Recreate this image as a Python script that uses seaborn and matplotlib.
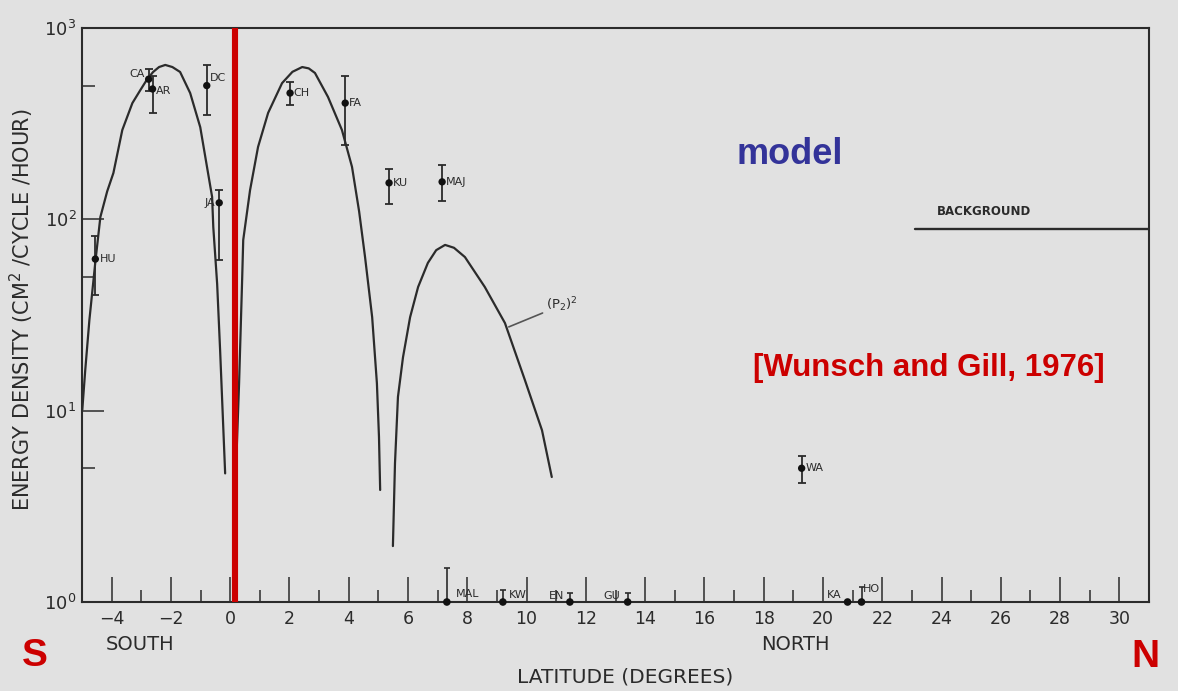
import matplotlib
matplotlib.use('Agg')
import matplotlib.pyplot as plt
import seaborn as sns
from matplotlib.ticker import NullFormatter

# (P2)^2 model curve, three lobes (latitude in degrees, energy density)
lat_a = [-4.99, -4.89, -4.75, -4.55, -4.38, -4.15, -3.94, -3.64, -3.30, -3.03, -2.80, -2.60,
         -2.40, -2.19, -1.95, -1.69, -1.35, -1.01, -0.78, -0.61, -0.57, -0.44, -0.34, -0.17]
val_a = [10.1, 16.3, 29.8, 59.8, 102.8, 140, 174.7, 293, 405, 474, 540, 589,
         625, 641, 625, 589, 457, 303, 187, 131, 91, 46, 20.7, 4.7]
lat_b = [0.18, 0.30, 0.40, 0.44, 0.67, 0.94, 1.28, 1.75, 2.10, 2.43, 2.65, 2.86, 3.30,
         3.77, 4.11, 4.35, 4.55, 4.79, 4.95, 5.02, 5.06]
val_b = [4.2, 13.9, 46.5, 78, 142, 239, 360, 515, 590, 625, 615, 582, 436,
         293, 188, 110, 63.5, 30.8, 13.9, 7.3, 3.85]
lat_c = [5.49, 5.56, 5.66, 5.83, 6.07, 6.34, 6.67, 6.95, 7.25, 7.55, 7.92, 8.59, 9.27,
         9.94, 10.52, 10.85]
val_c = [1.96, 5.3, 11.8, 19.0, 30.8, 44.3, 59.2, 69, 73.5, 71, 63.5, 44.3, 28.7,
         14.5, 7.9, 4.5]

# station observations
stations = ['HU', 'CA', 'AR', 'DC', 'JA', 'CH', 'FA', 'KU', 'MAJ', 'WA']
st_lat = [-4.55, -2.75, -2.62, -0.79, -0.37, 2.02, 3.88, 5.36, 7.15, 19.28]
st_val = [62, 540, 480, 500, 122, 457, 405, 155, 157, 5.0]
st_lo = [40, 470, 360, 350, 61, 395, 244, 120, 125, 4.2]
st_hi = [82, 610, 560, 640, 142, 522, 561, 183, 192, 5.8]

# stations sitting on the 10^0 line
low_names = ['MAL', 'KW', 'EN', 'GU', 'KA', 'HO']
low_lat = [7.31, 9.20, 11.46, 13.41, 20.83, 21.30]
low_val = [1, 1, 1, 1, 1, 1]
low_hi = [1.5, 1.15, 1.12, 1.12, 1.0, 1.2]

bg_lat = [23.1, 31.0]
bg_val = [88.9, 88.9]

bgc = '#e1e1e1'
ink = '#2b2b2b'

sns.set_style('ticks')
plt.rcParams['font.family'] = ['DejaVu Sans']

fig = plt.figure(figsize=(11.78, 6.91), dpi=100, facecolor=bgc)
ax = fig.add_axes([0.0696, 0.1288, 0.9058, 0.8307])
ax.set_facecolor(bgc)

for xs, ys in [(lat_a, val_a), (lat_b, val_b), (lat_c, val_c)]:
    sns.lineplot(x=xs, y=ys, sort=False, estimator=None, color=ink, lw=1.6, ax=ax)
sns.lineplot(x=bg_lat, y=bg_val, sort=False, estimator=None, color=ink, lw=1.7, ax=ax)

# error bars
for i in range(len(stations)):
    ax.errorbar(st_lat[i], st_val[i],
                yerr=[[st_val[i] - st_lo[i]], [st_hi[i] - st_val[i]]],
                fmt='none', ecolor=ink, elinewidth=1.3, capsize=3, capthick=1.3)
sns.scatterplot(x=st_lat, y=st_val, color='#111111', s=28, edgecolor='none', ax=ax, zorder=4)

for i in range(len(low_names)):
    if low_hi[i] > 1:
        ax.errorbar(low_lat[i], low_val[i], yerr=[[0], [low_hi[i] - 1]],
                    fmt='none', ecolor=ink, elinewidth=1.2, capsize=2.5, capthick=1.2,
                    clip_on=False)
sns.scatterplot(x=low_lat, y=low_val, color='#111111', s=30, edgecolor='none', ax=ax,
                zorder=4, clip_on=False)

# station labels
lab_kw = dict(fontsize=8, color=ink, va='center')
offs = {'HU': (0.15, 1.0, 'left'), 'CA': (-0.12, 1.07, 'right'), 'AR': (0.12, 0.98, 'left'),
        'DC': (0.12, 1.1, 'left'), 'JA': (-0.12, 1.0, 'right'), 'CH': (0.12, 1.0, 'left'),
        'FA': (0.12, 1.0, 'left'), 'KU': (0.12, 1.0, 'left'), 'MAJ': (0.12, 1.0, 'left'),
        'WA': (0.12, 1.0, 'left')}
for n, x, y in zip(stations, st_lat, st_val):
    dx, fy, ha = offs[n]
    ax.text(x + dx, y * fy, n, ha=ha, **lab_kw)
low_offs = {'MAL': (0.3, 1.1, 'left'), 'KW': (0.2, 1.09, 'left'), 'EN': (-0.2, 1.08, 'right'),
            'GU': (-0.25, 1.08, 'right'), 'KA': (-0.2, 1.09, 'right'), 'HO': (0.05, 1.17, 'left')}
for n, x in zip(low_names, low_lat):
    dx, fy, ha = low_offs[n]
    ax.text(x + dx, fy, n, ha=ha, **lab_kw)

ax.text(23.85, 101, 'BACKGROUND', fontsize=8.5, fontweight='bold', color=ink, va='bottom')
ax.annotate('(P$_2$)$^2$', xy=(9.4, 27.4), xytext=(10.65, 35.6), fontsize=9.5, color=ink,
            va='center', arrowprops=dict(arrowstyle='-', color='#555555', lw=1.2,
                                         shrinkA=0, shrinkB=0))

# red equator line
ax.axvline(0.17, color='#cc0000', lw=4.4, zorder=5)

ax.set_yscale('log')
ax.set_xlim(-5, 31)
ax.set_ylim(1, 1000)
ax.set_xticks(range(-4, 31, 2))
ax.set_xticks(range(-5, 32, 2), minor=True)
ax.set_xticklabels([str(v).replace('-', '\u2212') for v in range(-4, 31, 2)])
ax.set_yticks([1, 10, 100, 1000])
ax.set_yticklabels(['10$^0$', '10$^1$', '10$^2$', '10$^3$'])
ax.set_yticks([5, 50, 500], minor=True)
ax.yaxis.set_minor_formatter(NullFormatter())
ax.tick_params(axis='x', which='major', direction='in', length=18, width=1.1, color=ink,
               labelsize=12.5, labelcolor=ink, pad=6)
ax.tick_params(axis='x', which='minor', direction='in', length=9, width=1.1, color=ink)
ax.tick_params(axis='y', which='major', direction='in', length=16, width=1.1, color=ink,
               labelsize=13, labelcolor=ink, pad=4)
ax.tick_params(axis='y', which='minor', direction='in', length=9, width=1.1, color=ink)
for s in ax.spines.values():
    s.set_color(ink)
    s.set_linewidth(1.5)

fig.text(0.0187, 0.5514, 'ENERGY DENSITY (CM$^2$ /CYCLE /HOUR)', rotation=90, ha='center',
         va='center', fontsize=15, color=ink)
fig.text(0.119, 0.0666, 'SOUTH', ha='center', va='center', fontsize=14, color=ink)
fig.text(0.675, 0.0666, 'NORTH', ha='center', va='center', fontsize=14, color=ink)
fig.text(0.5306, 0.0203, 'LATITUDE (DEGREES)', ha='center', va='center', fontsize=14.5,
         color=ink)

hl = ['Liberation Sans', 'DejaVu Sans']
fig.text(0.0297, 0.0507, 'S', ha='center', va='center', fontsize=28, fontweight='bold',
         color='#cc0000', family=hl)
fig.text(0.972, 0.049, 'N', ha='center', va='center', fontsize=28, fontweight='bold',
         color='#cc0000', family=hl)
fig.text(0.6706, 0.7757, 'model', ha='center', va='center', fontsize=26, fontweight='bold',
         color='#333399', family=hl)
fig.text(0.7886, 0.4674, '[Wunsch and Gill, 1976]', ha='center', va='center', fontsize=22.5,
         fontweight='bold', color='#cc0000', family=hl)

fig.savefig('out.png', dpi=100, facecolor=bgc)
